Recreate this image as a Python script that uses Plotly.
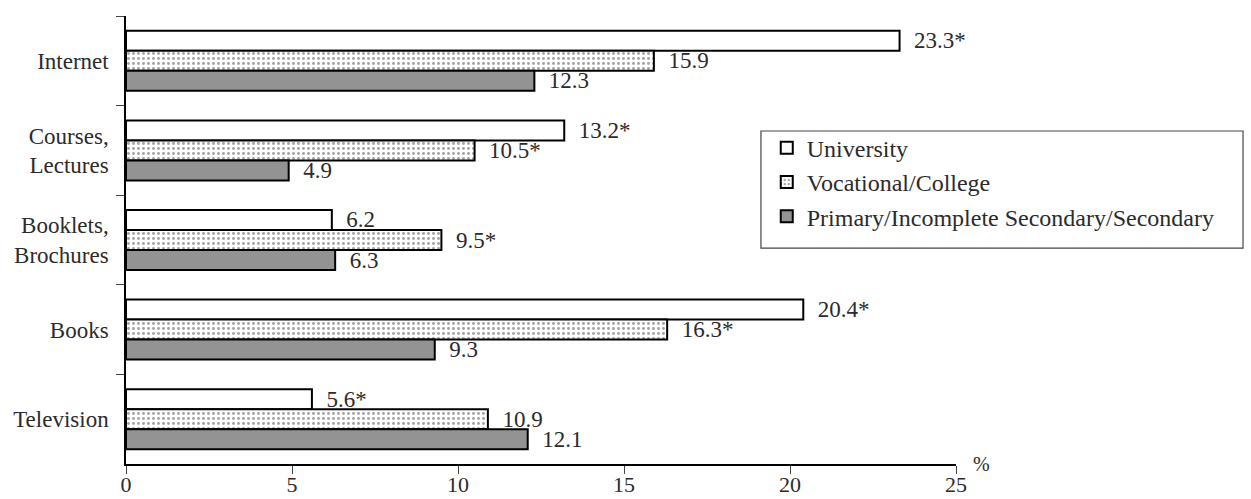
import plotly.graph_objects as go

categories = ["Internet", "Courses,<br>Lectures", "Booklets,<br>Brochures", "Books", "Television"]
series_names = ["University", "Vocational/College", "Primary/Incomplete Secondary/Secondary"]
university = [23.3, 13.2, 6.2, 20.4, 5.6]
vocational = [15.9, 10.5, 9.5, 16.3, 10.9]
primary = [12.3, 4.9, 6.3, 9.3, 12.1]
university_labels = ["23.3*", "13.2*", "6.2", "20.4*", "5.6*"]
vocational_labels = ["15.9", "10.5*", "9.5*", "16.3*", "10.9"]
primary_labels = ["12.3", "4.9", "6.3", "9.3", "12.1"]
x_ticks = [0, 5, 10, 15, 20, 25]

FONT = "Liberation Serif, Times New Roman, serif"
TXT = "#2b2b2b"
pad = "\u00a0\u00a0"

fig = go.Figure()
fig.add_trace(go.Bar(
    y=categories, x=university, name=series_names[0], orientation="h",
    text=[pad + t for t in university_labels], textposition="outside",
    marker=dict(color="white", line=dict(color="black", width=2)),
    legendgroup="a", cliponaxis=False, constraintext="none",
))
fig.add_trace(go.Bar(
    y=categories, x=vocational, name=series_names[1], orientation="h",
    text=[pad + t for t in vocational_labels], textposition="outside",
    marker=dict(color="white", line=dict(color="black", width=2),
                pattern=dict(shape=".", fgcolor="#4a4a4a", bgcolor="white", size=5, solidity=0.28)),
    legendgroup="b", cliponaxis=False, constraintext="none",
))
fig.add_trace(go.Bar(
    y=categories, x=primary, name=series_names[2], orientation="h",
    text=[pad + t for t in primary_labels], textposition="outside",
    marker=dict(color="#939393", line=dict(color="black", width=2)),
    legendgroup="c", cliponaxis=False, constraintext="none",
))

fig.update_traces(textfont=dict(family=FONT, size=23, color=TXT))

fig.update_layout(
    width=1251, height=499,
    margin=dict(l=126, r=295, t=16, b=35, autoexpand=False),
    plot_bgcolor="white", paper_bgcolor="white",
    barmode="group", bargap=0.33, bargroupgap=0,
    font=dict(family=FONT, size=23, color=TXT),
    showlegend=True,
    legend=dict(
        x=0.772, y=0.755, xanchor="left", yanchor="top",
        bgcolor="rgba(0,0,0,0)", borderwidth=0,
        font=dict(family=FONT, size=24, color=TXT),
        tracegroupgap=0, itemclick=False,
    ),
    xaxis=dict(
        range=[0, 25], tickvals=x_ticks, showgrid=False, zeroline=False,
        showline=True, linecolor="black", linewidth=1.5,
        ticks="outside", ticklen=8, tickcolor="#444", tickwidth=1,
        ticklabelstandoff=-8,
        tickfont=dict(family=FONT, size=22, color=TXT), automargin=False,
    ),
    yaxis=dict(
        autorange="reversed", showgrid=False, zeroline=False,
        showline=True, linecolor="black", linewidth=1.5,
        ticks="outside", ticklen=8, tickcolor="#444", tickwidth=1,
        tickson="boundaries", ticklabelstandoff=11,
        tickfont=dict(family=FONT, size=23, color=TXT), automargin=False,
    ),
    shapes=[dict(type="rect", xref="paper", yref="paper",
                 x0=0.765, x1=1.3458, y0=0.482, y1=0.7433,
                 line=dict(color="#444", width=1.2), fillcolor="rgba(0,0,0,0)")],
    annotations=[dict(text="%", xref="paper", yref="paper", x=1.031, y=0.0,
                      xanchor="center", yanchor="middle", showarrow=False,
                      font=dict(family=FONT, size=20, color=TXT))],
)

fig.write_html("out.html", config={"displayModeBar": False},
               post_script="document.body.style.margin='0';document.body.style.overflow='hidden';")
